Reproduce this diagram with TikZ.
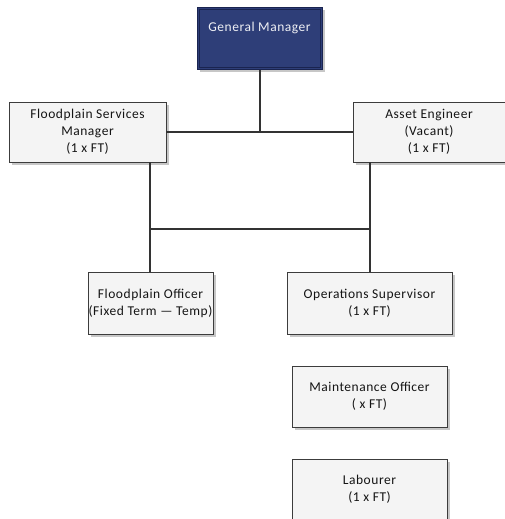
\documentclass[tikz,border=0pt]{standalone}
\usepackage{fontspec}
\setmainfont{Carlito}[LetterSpace=4]
\usetikzlibrary{shadows}
\definecolor{navy}{HTML}{2E3E78}
\definecolor{navyline}{HTML}{1A2450}
\definecolor{boxfill}{HTML}{F4F4F4}
\definecolor{boxline}{HTML}{3C3C3C}
\definecolor{wire}{HTML}{333333}
\definecolor{inktext}{HTML}{141414}
\tikzset{
  labelfont/.style={font=\fontsize{13.5}{16.8}\selectfont},
  orgbox/.style={draw=boxline, line width=0.9pt, fill=boxfill, rectangle,
    align=center, text=inktext, labelfont, inner sep=0pt,
    drop shadow={shadow xshift=2.5pt, shadow yshift=-2.5pt, fill=black!22, opacity=1}},
  topbox/.style={orgbox, fill=navy, draw=navyline, text=white!92!navy},
  wireline/.style={draw=wire, line width=1.8pt}
}
\begin{document}
\begin{tikzpicture}[x=1pt, y=-1pt]
  \useasboundingbox (0,0) rectangle (505,519);
  % top
  \node[topbox, minimum width=125pt, minimum height=62pt, anchor=north west] (gm) at (197,7) {};
  \node[text=white!92!navy, labelfont] (gmt) at (259.5,28) {General Manager};
  \draw[navyline, line width=0.6pt] ([shift={(2.5,2.5)}]gm.north west) rectangle ([shift={(-2.5,-2.5)}]gm.south east);
  % second row
  \node[orgbox, minimum width=157pt, minimum height=60pt] (fsm) at (87.5,132)
    {Floodplain Services\\Manager\\(1 x FT)};
  \node[orgbox, minimum width=152pt, minimum height=60pt] (ae) at (429,132)
    {Asset Engineer\\(Vacant)\\(1 x FT)};
  % third row
  \node[orgbox, minimum width=125pt, minimum height=62pt] (fo) at (150.5,303)
    {Floodplain Officer\\(Fixed Term --- Temp)};
  \node[orgbox, minimum width=165pt, minimum height=62pt] (os) at (369.5,303)
    {Operations Supervisor\\(1 x FT)};
  % unconnected boxes
  \node[orgbox, minimum width=155pt, minimum height=61pt] (mo) at (369.5,396.5)
    {Maintenance Officer\\( x FT)};
  \node[orgbox, minimum width=155pt, minimum height=61pt] (lab) at (369.5,489.5)
    {Labourer\\(1 x FT)};
  % connectors
  \coordinate (jl) at (150,229);
  \coordinate (jr) at (370,229);
  \draw[wireline] (gm.south) -- (gm.south |- fsm.east);
  \draw[wireline] (fsm.east) -- (ae.west);
  \draw[wireline] (fsm.south -| jl) -- (fo.north -| jl);
  \draw[wireline] (ae.south -| jr) -- (os.north -| jr);
  \draw[wireline] (jl) -- (jr);
\end{tikzpicture}
\end{document}
